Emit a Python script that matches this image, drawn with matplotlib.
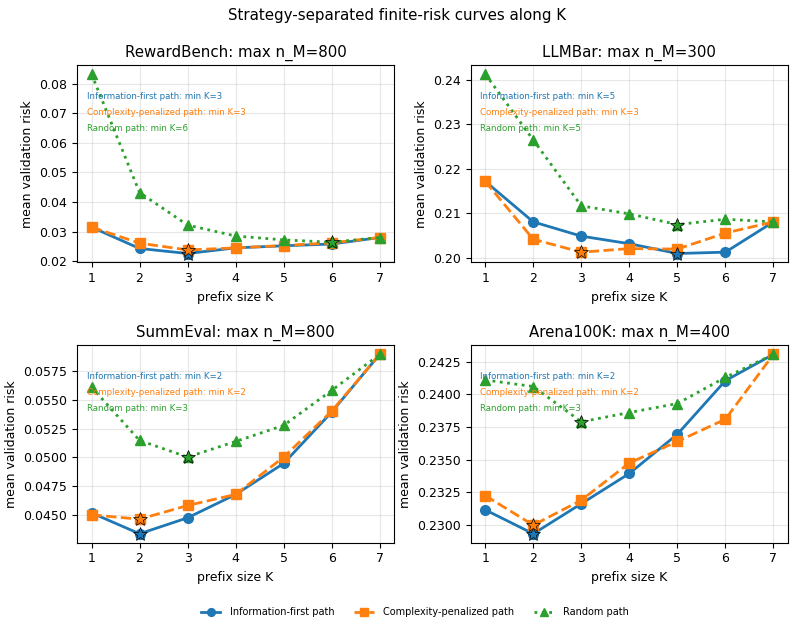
import matplotlib
matplotlib.use("Agg")
import matplotlib.pyplot as plt
import numpy as np

K = [1, 2, 3, 4, 5, 6, 7]
datasets = ["RewardBench", "LLMBar", "SummEval", "Arena100K"]
max_nM = [800, 300, 800, 400]
series_names = ["Information-first path", "Complexity-penalized path", "Random path"]

info_first = {
    "RewardBench": [0.0315, 0.0243, 0.0226, 0.0245, 0.0252, 0.0258, 0.0280],
    "LLMBar": [0.2172, 0.2081, 0.2049, 0.2032, 0.2010, 0.2013, 0.2081],
    "SummEval": [0.04517, 0.04335, 0.04474, 0.04677, 0.04947, 0.05394, 0.05896],
    "Arena100K": [0.23117, 0.22934, 0.23164, 0.23395, 0.23695, 0.24105, 0.24306],
}
complexity = {
    "RewardBench": [0.0315, 0.0261, 0.0238, 0.0245, 0.0253, 0.0262, 0.0280],
    "LLMBar": [0.2172, 0.2042, 0.2013, 0.2021, 0.2020, 0.2056, 0.2081],
    "SummEval": [0.0450, 0.04462, 0.04581, 0.04677, 0.05002, 0.05402, 0.05896],
    "Arena100K": [0.23226, 0.2300, 0.23191, 0.23475, 0.2364, 0.2381, 0.24306],
}
random_path = {
    "RewardBench": [0.0832, 0.0432, 0.0322, 0.0285, 0.0272, 0.0264, 0.0280],
    "LLMBar": [0.2413, 0.2265, 0.2117, 0.2099, 0.2075, 0.2087, 0.2081],
    "SummEval": [0.05611, 0.05147, 0.05002, 0.05138, 0.05278, 0.05582, 0.05896],
    "Arena100K": [0.2411, 0.2406, 0.2379, 0.23861, 0.2393, 0.2413, 0.24306],
}

colors = ["#1f77b4", "#ff7f0e", "#2ca02c"]
markers = ["o", "s", "^"]
styles = ["-", "--", ":"]

fig, axes = plt.subplots(2, 2, figsize=(7.95, 6.26), dpi=100)
fig.subplots_adjust(left=0.097, right=0.991, top=0.896, bottom=0.133,
                    wspace=0.242, hspace=0.42)
fig.suptitle("Strategy-separated finite-risk curves along K", fontsize=10.8, y=0.987)

handles = []
for ax, name, nm in zip(axes.flat, datasets, max_nM):
    all_series = [info_first[name], complexity[name], random_path[name]]
    for i, vals in enumerate(all_series):
        h, = ax.plot(K, vals, color=colors[i], marker=markers[i], linestyle=styles[i],
                     linewidth=2, markersize=7, label=series_names[i])
        if ax is axes.flat[0]:
            handles.append(h)
        imin = int(np.argmin(vals))
        ax.plot(K[imin], vals[imin], marker="*", markersize=10, color=colors[i],
                markeredgecolor="black", markeredgewidth=0.5, linestyle="none", zorder=5)
        ax.text(0.03, 0.84 - 0.08 * i, f"{series_names[i]}: min K={K[imin]}",
                transform=ax.transAxes, color=colors[i], fontsize=6.2, va="center")
    ax.set_title(f"{name}: max n_M={nm}", fontsize=10.8)
    ax.set_xlabel("prefix size K", fontsize=9)
    ax.set_ylabel("mean validation risk", fontsize=9)
    ax.set_xticks(K)
    ax.tick_params(labelsize=9)
    ax.grid(True, alpha=0.3)

fig.legend(handles=handles, labels=series_names, loc="lower center",
           bbox_to_anchor=(0.522, 0.0), ncol=3, frameon=False, fontsize=7,
           markerscale=0.8, handletextpad=1.0)

fig.savefig("out.png", dpi=100)
